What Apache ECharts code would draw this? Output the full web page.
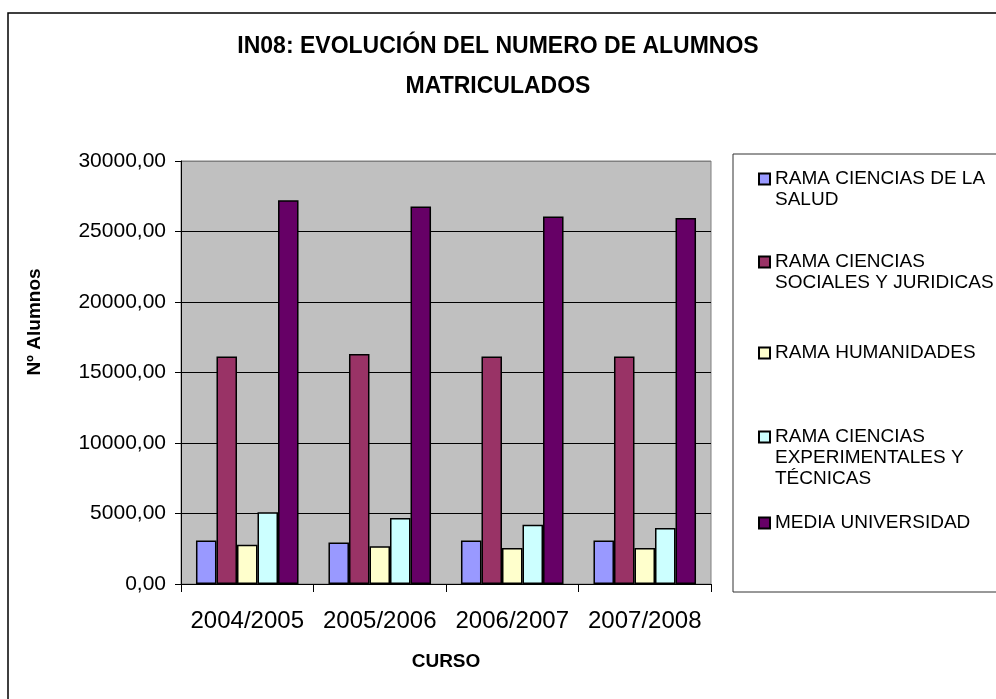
<!DOCTYPE html>
<html>
<head>
<meta charset="utf-8">
<script src="https://cdn.jsdelivr.net/npm/echarts@6/dist/echarts.min.js"></script>
<style>
  html, body { margin: 0; padding: 0; background: #fff; }
  #main { width: 996px; height: 699px; }
</style>
</head>
<body>
<div id="main"></div>
<script>
var cursos = ['2004/2005', '2005/2006', '2006/2007', '2007/2008'];
var salud = [3090, 2950, 3090, 3090];
var sociales = [16140, 16310, 16140, 16140];
var humanidades = [2790, 2670, 2550, 2550];
var experimentales = [5080, 4680, 4210, 3970];
var media = [27210, 26780, 26070, 25960];

var seriesNames = [
  'RAMA CIENCIAS DE LA SALUD',
  'RAMA CIENCIAS SOCIALES Y JURIDICAS',
  'RAMA HUMANIDADES',
  'RAMA CIENCIAS EXPERIMENTALES Y TÉCNICAS',
  'MEDIA UNIVERSIDAD'
];
// how the legend text wraps, as in the original
var legendLines = [
  ['RAMA CIENCIAS DE LA', 'SALUD'],
  ['RAMA CIENCIAS', 'SOCIALES Y JURIDICAS'],
  ['RAMA HUMANIDADES'],
  ['RAMA CIENCIAS', 'EXPERIMENTALES Y', 'TÉCNICAS'],
  ['MEDIA UNIVERSIDAD']
];
var seriesData = [salud, sociales, humanidades, experimentales, media];
var colors = ['#9999FF', '#993366', '#FFFFCC', '#CCFFFF', '#660066'];

var chartDom = document.getElementById('main');
var myChart = echarts.init(chartDom);
var option;

var font = 'Liberation Sans, Arial, sans-serif';
var lineH = 21;
var iconY = [179, 262, 353, 437, 523];

// one legend per series so each entry sits where it does in the original;
// blank lines in front keep the icon level with the first text line
var legends = seriesNames.map(function (name, i) {
  var n = legendLines[i].length;
  var boxH = (2 * n - 1) * lineH;
  var pad = new Array(n).join('\n');
  return {
    data: [name],
    orient: 'vertical',
    left: 758,
    top: iconY[i] - boxH / 2,
    padding: 0,
    itemWidth: 11,
    itemHeight: 11,
    icon: 'rect',
    selectedMode: false,
    formatter: function () { return pad + legendLines[i].join('\n'); },
    textStyle: {
      fontFamily: font,
      fontSize: 19,
      color: '#000',
      lineHeight: lineH
    }
  };
});

option = {
  animation: false,
  backgroundColor: '#fff',
  textStyle: { fontFamily: font },
  title: {
    text: 'IN08: EVOLUCIÓN DEL NUMERO DE ALUMNOS\nMATRICULADOS',
    left: 'center',
    top: 22,
    textStyle: {
      fontFamily: font,
      fontSize: 23,
      fontWeight: 'bold',
      color: '#000',
      lineHeight: 40
    }
  },
  legend: legends,
  graphic: [
    {
      type: 'rect',
      z: -10,
      shape: { x: 8, y: 13, width: 1000, height: 700 },
      style: { fill: '#fff', stroke: '#000', lineWidth: 1.5 }
    },
    {
      type: 'rect',
      z: -5,
      shape: { x: 733, y: 154, width: 280, height: 438 },
      style: { fill: '#fff', stroke: '#333', lineWidth: 1 }
    },
    {
      type: 'text',
      x: 35,
      y: 322,
      rotation: Math.PI / 2,
      style: {
        text: 'Nº Alumnos',
        font: 'bold 19px ' + font,
        fill: '#000',
        align: 'center',
        verticalAlign: 'middle'
      }
    }
  ],
  grid: {
    left: 181,
    right: 285,
    top: 161,
    bottom: 115,
    show: true,
    backgroundColor: '#C0C0C0',
    borderColor: '#808080',
    borderWidth: 1
  },
  xAxis: {
    type: 'category',
    data: cursos,
    name: 'CURSO',
    nameLocation: 'middle',
    nameGap: 78,
    nameTextStyle: {
      fontFamily: font,
      fontSize: 19,
      fontWeight: 'bold',
      color: '#000',
      verticalAlign: 'middle'
    },
    axisLine: { lineStyle: { color: '#000', width: 1 } },
    axisTick: { show: true, length: 8, lineStyle: { color: '#000' } },
    axisLabel: { fontFamily: font, fontSize: 24, color: '#000', margin: 25, interval: 0 }
  },
  yAxis: {
    type: 'value',
    min: 0,
    max: 30000,
    interval: 5000,
    axisLine: { show: true, lineStyle: { color: '#000', width: 1 } },
    axisTick: { show: true, length: 6, lineStyle: { color: '#000' } },
    axisLabel: {
      fontFamily: font,
      fontSize: 21,
      color: '#000',
      margin: 15,
      formatter: function (v) { return v.toFixed(2).replace('.', ','); }
    },
    splitLine: {
      show: true,
      lineStyle: {
        color: ['#000', '#000', '#000', '#000', '#000', '#000', '#808080'],
        width: 1
      }
    }
  },
  series: seriesNames.map(function (name, i) {
    return {
      name: name,
      type: 'bar',
      data: seriesData[i],
      barGap: '0%',
      barCategoryGap: '22.6%',
      itemStyle: { color: colors[i], borderColor: '#000', borderWidth: 1.5 }
    };
  })
};

option && myChart.setOption(option);
</script>
</body>
</html>
